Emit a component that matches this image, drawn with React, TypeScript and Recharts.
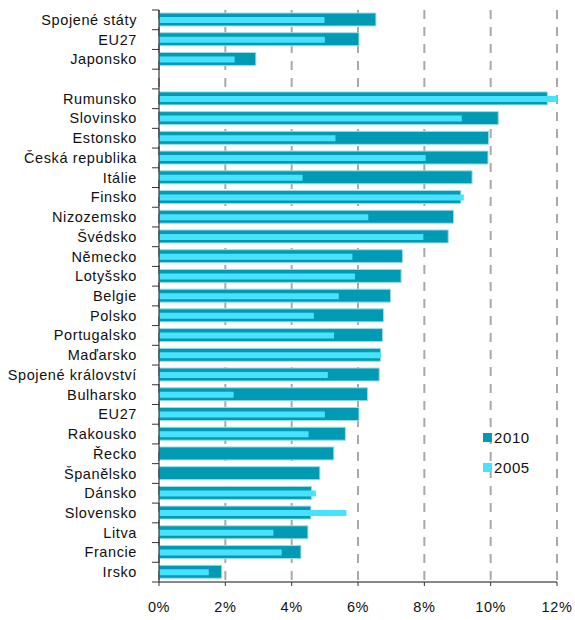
import { BarChart, Bar, XAxis, YAxis, CartesianGrid } from 'recharts'

const countries = [
  'Spojené státy', 'EU27', 'Japonsko', '', 'Rumunsko', 'Slovinsko', 'Estonsko', 'Česká republika',
  'Itálie', 'Finsko', 'Nizozemsko', 'Švédsko', 'Německo', 'Lotyšsko', 'Belgie', 'Polsko',
  'Portugalsko', 'Maďarsko', 'Spojené království', 'Bulharsko', 'EU27', 'Rakousko', 'Řecko',
  'Španělsko', 'Dánsko', 'Slovensko', 'Litva', 'Francie', 'Irsko',
]
const v2010 = [
  6.54, 6.03, 2.92, null, 11.71, 10.23, 9.94, 9.92, 9.44, 9.1, 8.88, 8.72, 7.34, 7.3, 6.98, 6.77,
  6.74, 6.68, 6.64, 6.29, 6.03, 5.62, 5.27, 4.85, 4.6, 4.58, 4.49, 4.28, 1.89,
]
const v2005 = [
  4.99, 5.0, 2.28, null, 12.12, 9.13, 5.32, 8.04, 4.33, 9.19, 6.31, 7.97, 5.83, 5.91, 5.42, 4.67,
  5.28, 6.7, 5.09, 2.25, 5.0, 4.51, null, null, 4.73, 5.65, 3.45, 3.7, 1.5,
]
const xTicks = [0, 2, 4, 6, 8, 10, 12]
const legendItems = ['2010', '2005']

const data = countries.map((name, i) => ({ key: String(i), name, y2010: v2010[i], y2005: v2005[i] }))

const W = 575
const H = 620
const M = { top: 10, right: 18, left: 0, bottom: 0 }
const X_AXIS_H = 38
const BAND = (H - M.top - M.bottom - X_AXIS_H) / countries.length

const FONT = '"Liberation Sans", Arial, sans-serif'
const C2010 = '#009ab4'
const C2005 = '#48e2ff'
const colors: Record<string, string> = { '2010': C2010, '2005': C2005 }

function CountryTick(props: any) {
  const { x, y, payload, index } = props
  const i = Number(payload.value)
  return (
    <g>
      <line x1={x - 7} x2={x} y1={y - BAND / 2} y2={y - BAND / 2} stroke="#333" />
      {index === countries.length - 1 && (
        <line x1={x - 7} x2={x} y1={y + BAND / 2} y2={y + BAND / 2} stroke="#333" />
      )}
      <text x={x - 22} y={y} dy={5} textAnchor="end" fontSize={14.5} letterSpacing={0.6} fill="#111" fontFamily={FONT}>
        {countries[i]}
      </text>
    </g>
  )
}

export default function App() {
  return (
    <div style={{ position: 'absolute', left: 0, top: 0, width: W, height: H, background: '#fff' }}>
      <BarChart width={W} height={H} data={data} layout="vertical" margin={M}>
        <CartesianGrid horizontal={false} yAxisId="a" stroke="#a9a9a9" strokeWidth={2} strokeDasharray="9 8" />
        <XAxis
          type="number"
          domain={[0, 12]}
          ticks={xTicks}
          allowDataOverflow
          height={X_AXIS_H}
          tickFormatter={v => `${v}%`}
          tick={{ fill: '#111', fontSize: 14.5, fontFamily: FONT, letterSpacing: 0.6 }}
          tickSize={4}
          tickMargin={16}
          axisLine={{ stroke: '#111' }}
          tickLine={{ stroke: '#333' }}
        />
        <XAxis
          xAxisId="top"
          orientation="top"
          type="number"
          domain={[0, 12]}
          height={0}
          tick={false}
          tickLine={false}
          axisLine={{ stroke: '#aaa', strokeWidth: 2 }}
        />
        <YAxis
          yAxisId="a"
          type="category"
          dataKey="key"
          width={159}
          tickSize={0}
          tickMargin={0}
          tickLine={false}
          interval={0}
          axisLine={{ stroke: '#111' }}
          tick={<CountryTick />}
        />
        <YAxis
          yAxisId="b"
          orientation="right"
          type="category"
          dataKey="key"
          width={0}
          tick={false}
          tickLine={false}
          axisLine={{ stroke: '#aaa', strokeWidth: 2 }}
        />
        <Bar yAxisId="a" dataKey="y2010" name="2010" fill={C2010} stroke="#9fdce6" strokeWidth={1} barSize={13} isAnimationActive={false} />
        <Bar yAxisId="b" dataKey="y2005" name="2005" fill={C2005} barSize={6} isAnimationActive={false} />
      </BarChart>
      <div style={{ position: 'absolute', left: 483, top: 422, fontFamily: FONT, fontSize: 15, color: '#111', letterSpacing: 0.6 }}>
        {legendItems.map(label => (
          <div key={label} style={{ display: 'flex', alignItems: 'center', height: 30 }}>
            <span style={{ width: 9, height: 9, background: colors[label], marginRight: 2 }} />
            <span>{label}</span>
          </div>
        ))}
      </div>
    </div>
  )
}
